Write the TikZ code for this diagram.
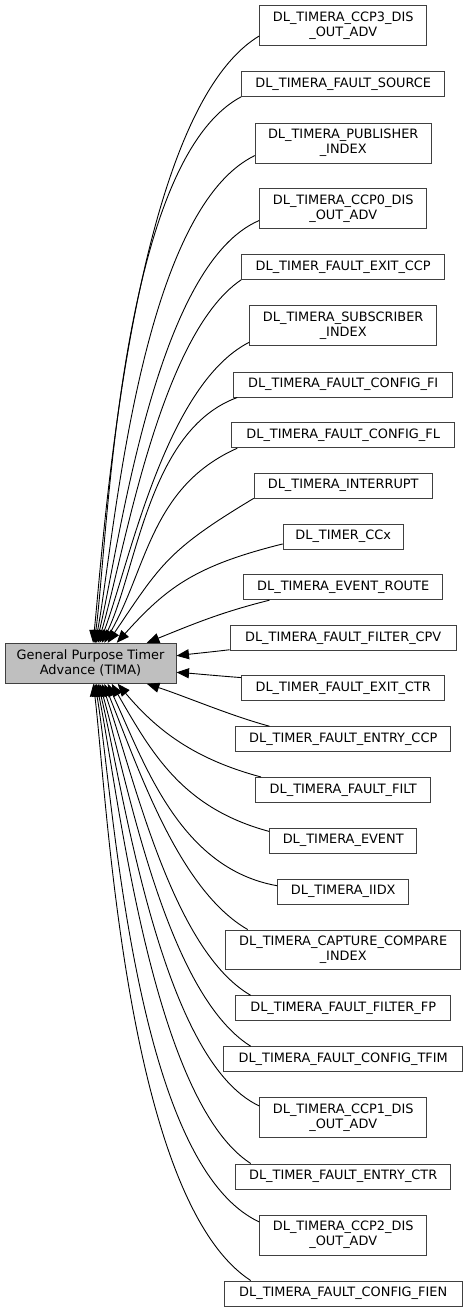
\documentclass[tikz,border=0pt]{standalone}
\usepackage{fontspec}
\setmainfont{DejaVu Sans}
\usetikzlibrary{arrows.meta}
\definecolor{boxline}{HTML}{404040}
\definecolor{hubfill}{HTML}{BFBFBF}
\tikzset{line width=.8pt,
  every node/.style={font=\fontsize{12.9}{15}\selectfont},
  group/.style={draw=boxline,line width=1pt,fill=white,align=center,
    inner xsep=2pt,inner ysep=6pt,minimum height=25pt},
  hub/.style={group,fill=hubfill,minimum width=171pt,minimum height=40pt},
  feed/.style={draw=black,line width=.9pt,-{Triangle[length=12.5pt,width=10pt]}}}

\begin{document}
\begin{tikzpicture}[x=1pt,y=1pt]
\useasboundingbox (0,0) rectangle (468,-1313);
\node[hub] (tima) at (90.5,-663.3) {General Purpose Timer\\Advance (TIMA)};
% member groups, top to bottom
\foreach \n/\y/\w/\t in {
  ccpthree/25.7/167/{DL\_TIMERA\_CCP3\_DIS\\\_OUT\_ADV},
  faultsrc/84.3/203/{DL\_TIMERA\_FAULT\_SOURCE},
  pubidx/143.2/176/{DL\_TIMERA\_PUBLISHER\\\_INDEX},
  ccpzero/208.7/167/{DL\_TIMERA\_CCP0\_DIS\\\_OUT\_ADV},
  exitccp/267.3/203/{DL\_TIMER\_FAULT\_EXIT\_CCP},
  subidx/325.7/187/{DL\_TIMERA\_SUBSCRIBER\\\_INDEX},
  cfgfi/384.5/219/{DL\_TIMERA\_FAULT\_CONFIG\_FI},
  cfgfl/435.2/223/{DL\_TIMERA\_FAULT\_CONFIG\_FL},
  intr/485.8/178/{DL\_TIMERA\_INTERRUPT},
  ccx/536.5/120/{DL\_TIMER\_CCx},
  evroute/587.2/199/{DL\_TIMERA\_EVENT\_ROUTE},
  fltcpv/637.8/226/{DL\_TIMERA\_FAULT\_FILTER\_CPV},
  exitctr/688.3/203/{DL\_TIMER\_FAULT\_EXIT\_CTR},
  entryccp/739.2/215/{DL\_TIMER\_FAULT\_ENTRY\_CCP},
  filt/790/175/{DL\_TIMERA\_FAULT\_FILT},
  event/840.5/147/{DL\_TIMERA\_EVENT},
  iidx/891.5/131/{DL\_TIMERA\_IIDX},
  ccidx/949.8/235/{DL\_TIMERA\_CAPTURE\_COMPARE\\\_INDEX},
  fltfp/1008.3/215/{DL\_TIMERA\_FAULT\_FILTER\_FP},
  cfgtfim/1059.2/239/{DL\_TIMERA\_FAULT\_CONFIG\_TFIM},
  ccpone/1117.7/167/{DL\_TIMERA\_CCP1\_DIS\\\_OUT\_ADV},
  entryctr/1176.5/215/{DL\_TIMER\_FAULT\_ENTRY\_CTR},
  ccptwo/1235.2/167/{DL\_TIMERA\_CCP2\_DIS\\\_OUT\_ADV},
  cfgfien/1293.5/238/{DL\_TIMERA\_FAULT\_CONFIG\_FIEN}}
  \node[group,minimum width=\w pt] (\n) at (343.2,-\y) {\t};
% edges into the group box
\foreach \n/\s/\e/\o/\i/\a/\b in {
  ccpthree/187.5/83/211/84/150/105, faultsrc/187/80/208/82/140/100,
  pubidx/188/77/206/79/130/95, ccpzero/188/74/203/76/115/90,
  exitccp/187/70/214/73/100/85, subidx/190.7/66/207/69/95/80,
  cfgfi/187.4/61/200/64/95/80, cfgfl/187.5/56/204/60/95/85,
  intr/188/50/211/56/100/95, ccx/187.4/38/194/48/90/75,
  evroute/190/20/194/22/50/50, fltcpv/186/5/187/7/15/15,
  exitctr/174/354/176/356/15/15, entryccp/170/340/165/342/40/40,
  filt/171.5/323/165/310/70/60, event/173.6/316/165/300/90/80,
  iidx/175.8/310/170/295/100/85, ccidx/168.6/304/150/292/80/90,
  fltfp/172.6/299/150/289/90/100, cfgtfim/172.9/294/148/286/100/100,
  ccpone/172/290/155/284/110/100, entryctr/172.8/286/147/282/120/100,
  ccptwo/171.9/282/155/280/140/105, cfgfien/172.9/278/147/277/150/110}
  \draw[feed] (\n.\s) to[out=\o,in=\i,out distance=\a pt,in distance=\b pt] (tima.\e);
\end{tikzpicture}
\end{document}
